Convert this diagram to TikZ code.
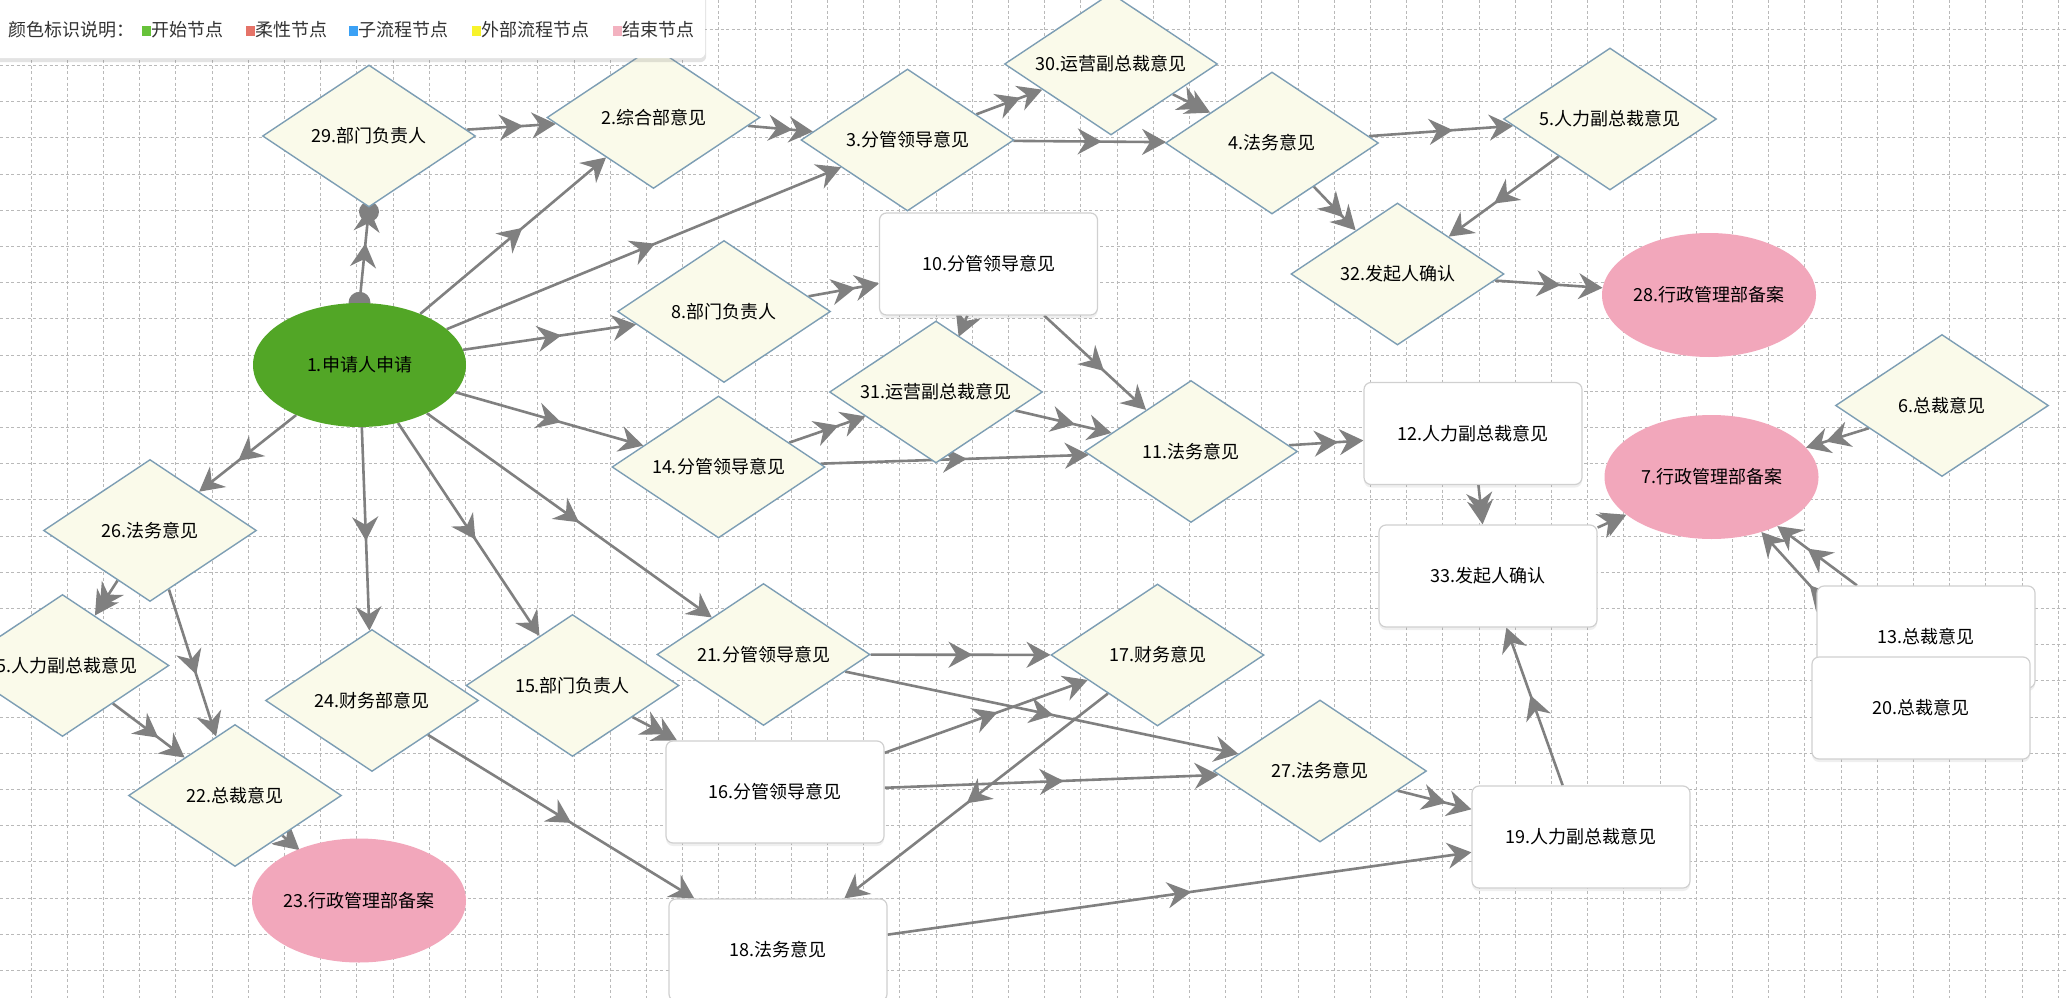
\documentclass[tikz,border=0pt]{standalone}
\usepackage{fontspec}
\newfontfamily\cjk{Noto Sans CJK SC}
\usetikzlibrary{shapes.geometric,arrows.meta,decorations.markings,shadows}
\pgfdeclarelayer{gridlayer}
\pgfdeclarelayer{edgelayer}
\pgfsetlayers{gridlayer,edgelayer,main}
\definecolor{diafill}{RGB}{250,250,234}
\definecolor{diaborder}{RGB}{125,158,180}
\definecolor{boxborder}{RGB}{208,208,208}
\definecolor{startgreen}{RGB}{82,166,38}
\definecolor{endpink}{RGB}{242,167,187}
\definecolor{edgegray}{RGB}{128,128,128}
\definecolor{gridgray}{RGB}{185,185,185}
\definecolor{lgreen}{RGB}{103,194,58}
\definecolor{lred}{RGB}{229,115,104}
\definecolor{lblue}{RGB}{59,161,245}
\definecolor{lyellow}{RGB}{248,243,43}
\definecolor{lpink}{RGB}{243,178,192}
\begin{document}
\begin{tikzpicture}[x=1pt,y=-1pt,
  font={\cjk\fontsize{18}{21}\selectfont},
  dia/.style={diamond, aspect=1.5, minimum width=213pt, minimum height=142pt, inner sep=0pt, fill=diafill, draw=diaborder, line width=1.4pt},
  box/.style={rectangle, rounded corners=7pt, minimum width=218pt, minimum height=102pt, inner sep=0pt, fill=white, draw=boxborder, line width=1.2pt, drop shadow={opacity=0.12, shadow xshift=0pt, shadow yshift=-3pt}},
  startnode/.style={ellipse, minimum width=213pt, minimum height=124pt, inner sep=0pt, fill=startgreen},
  endnode/.style={ellipse, minimum width=214pt, minimum height=124pt, inner sep=0pt, fill=endpink},
  conn/.style={draw=edgegray, line width=2.6pt, -{Stealth[length=24pt,width=26pt,inset=8pt]},
    postaction={decorate},
    decoration={markings, mark=at position 0.5 with {\arrow[xshift=12pt]{Stealth[length=24pt,width=26pt,inset=8pt]}}}},
  gridln/.style={draw=gridgray, line width=1pt, dash pattern=on 3pt off 2.5pt},
  legendbox/.style={rectangle, rounded corners=6pt, fill=white, draw=none, inner sep=0pt, drop shadow={opacity=0.22, shadow xshift=1pt, shadow yshift=-4pt}},
  legtext/.style={anchor=west, inner sep=0pt, text=black!80},
  legsq/.style={rectangle, minimum width=9pt, minimum height=10pt, inner sep=0pt, draw=none}
]
\useasboundingbox (0,0) rectangle (2066,998);

\begin{pgfonlayer}{gridlayer}
\fill[white] (0,0) rectangle (2066,998);
\foreach \k in {0,...,56} \draw[gridln] ({31+36.2*\k},0) -- ({31+36.2*\k},998);
\foreach \k in {1,...,27} \draw[gridln] (0,{-7+36.2*\k}) -- (2066,{-7+36.2*\k});
\end{pgfonlayer}

% nodes
\node[startnode] (n1) at (359.5,365) {1.申请人申请};
\node[dia] (n2) at (653.5,117.5) {2.综合部意见};
\node[dia] (n3) at (907.5,140) {3.分管领导意见};
\node[dia] (n4) at (1272,143) {4.法务意见};
\node[dia] (n5) at (1610,119) {5.人力副总裁意见};
\node[dia] (n6) at (1942,405.5) {6.总裁意见};
\node[endnode] (n7) at (1711.5,477) {7.行政管理部备案};
\node[dia] (n8) at (724,311.5) {8.部门负责人};
\node[box] (n10) at (988.5,264) {10.分管领导意见};
\node[dia] (n11) at (1191,451.5) {11.法务意见};
\node[box] (n12) at (1473,433.5) {12.人力副总裁意见};
\node[box] (n13) at (1926,637) {13.总裁意见};
\node[dia] (n14) at (718.5,467) {14.分管领导意见};
\node[dia] (n15) at (572.5,685.5) {15.部门负责人};
\node[box] (n16) at (775,792) {16.分管领导意见};
\node[dia] (n17) at (1157.5,655) {17.财务意见};
\node[box] (n18) at (778,950) {18.法务意见};
\node[box] (n19) at (1581,837) {19.人力副总裁意见};
\node[box] (n20) at (1921,708) {20.总裁意见};
\node[dia] (n21) at (763.5,654.5) {21.分管领导意见};
\node[dia] (n22) at (235,795.5) {22.总裁意见};
\node[endnode] (n23) at (359,900.5) {23.行政管理部备案};
\node[dia] (n24) at (372,700.5) {24.财务部意见};
\node[dia] (n25) at (62.5,665.5) {25.人力副总裁意见};
\node[dia] (n26) at (150,530.5) {26.法务意见};
\node[dia] (n27) at (1320,771) {27.法务意见};
\node[endnode] (n28) at (1709,295) {28.行政管理部备案};
\node[dia] (n29) at (369,136) {29.部门负责人};
\node[dia] (n30) at (1111,64) {30.运营副总裁意见};
\node[dia] (n31) at (936,392) {31.运营副总裁意见};
\node[dia] (n32) at (1397.5,274) {32.发起人确认};
\node[box] (n33) at (1488,576) {33.发起人确认};

% connectors
\begin{pgfonlayer}{edgelayer}
\draw[conn] (n1.north) -- (n29.south);
\fill[edgegray] (n1.north) circle (11pt);
\fill[edgegray] ([yshift=-4pt]n29.south) circle (10pt);
\draw[conn] (n29) -- (n2);
\draw[conn] (n1) -- (n2);
\draw[conn] (n1) -- (n3);
\draw[conn] (n2) -- (n3);
\draw[conn] (n3) -- (n30);
\draw[conn] (n3) -- (n4);
\draw[conn] (n30) -- (n4);
\draw[conn] (n4) -- (n5);
\draw[conn] (n4) -- (n32);
\draw[conn] (n5) -- (n32);
\draw[conn] (n32) -- (n28);
\draw[conn] (n1) -- (n8);
\draw[conn] (n8) -- (n10);
\draw[conn] (n10) -- (n31);
\draw[conn] (n10) -- (n11);
\draw[conn] (n1) -- (n14);
\draw[conn] (n14) -- (n31);
\draw[conn] (n14) -- (n11);
\draw[conn] (n31) -- (n11);
\draw[conn] (n11) -- (n12);
\draw[conn] (n12) -- (n33);
\draw[conn] (n33) -- (n7);
\draw[conn] (n6) -- (n7);
\draw[conn] (n13) -- (n7);
\draw[conn] (n20) -- (n7);
\draw[conn] (n1) -- (n26);
\draw[conn] (n26) -- (n25);
\draw[conn] (n26) -- (n22);
\draw[conn] (n25) -- (n22);
\draw[conn] (n22) -- (n23);
\draw[conn] (n1) -- (n24);
\draw[conn] (n24) -- (n18);
\draw[conn] (n1) -- (n15);
\draw[conn] (n15) -- (n16);
\draw[conn] (n1) -- (n21);
\draw[conn] (n21) -- (n17);
\draw[conn] (n21) -- (n27);
\draw[conn] (n16) -- (n17);
\draw[conn] (n16) -- (n27);
\draw[conn] (n17) -- (n18);
\draw[conn] (n18) -- (n19);
\draw[conn] (n27) -- (n19);
\draw[conn] (n19) -- (n33);
\end{pgfonlayer}

% legend
\node[legendbox, anchor=north west, minimum width=711pt, minimum height=68pt] (legend) at (-6,-10) {};
\node[legtext] (lg0) at (8,30) {颜色标识说明：};
\node[legsq, fill=lgreen] (sq1) at (146.5,31.5) {};
\node[legtext] (lg1) at (151.5,30) {开始节点};
\node[legsq, fill=lred] (sq2) at (250,31.5) {};
\node[legtext] (lg2) at (255,30) {柔性节点};
\node[legsq, fill=lblue] (sq3) at (353.5,31.5) {};
\node[legtext] (lg3) at (358,30) {子流程节点};
\node[legsq, fill=lyellow] (sq4) at (476,31.5) {};
\node[legtext] (lg4) at (481,30) {外部流程节点};
\node[legsq, fill=lpink] (sq5) at (617.5,31.5) {};
\node[legtext] (lg5) at (622,30) {结束节点};
\end{tikzpicture}
\end{document}
